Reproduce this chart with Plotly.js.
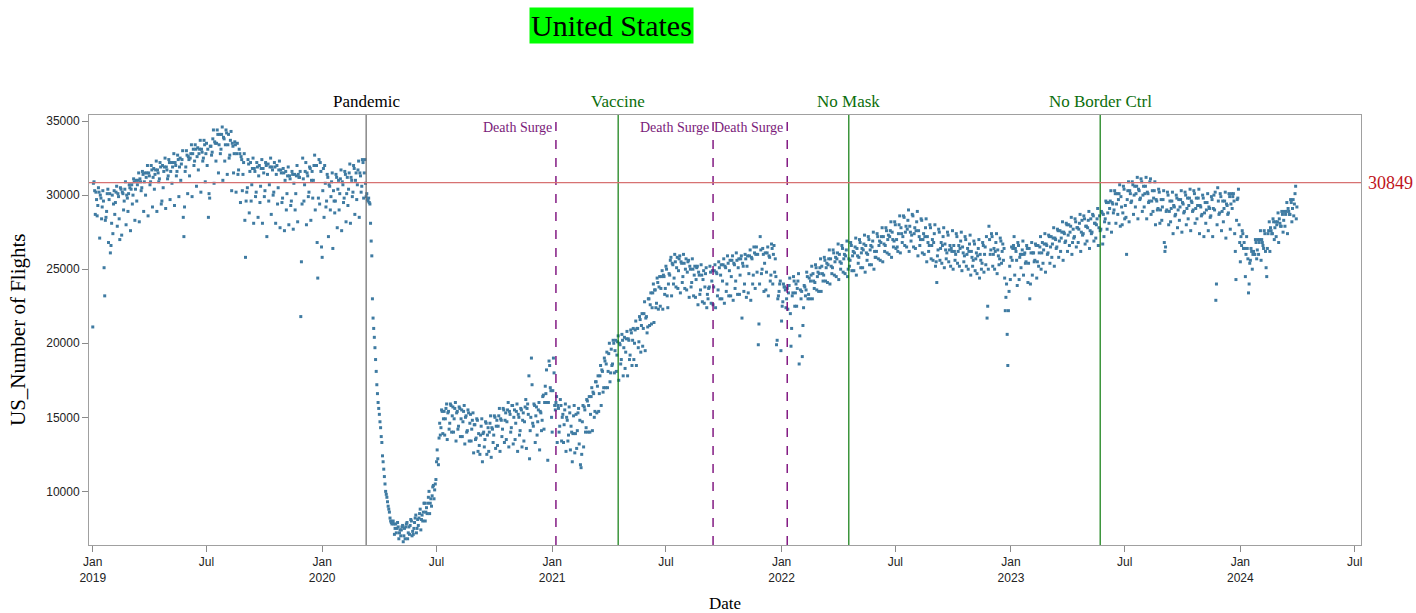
<!DOCTYPE html>
<html><head><meta charset="utf-8">
<script src="https://cdn.plot.ly/plotly-3.0.1.min.js"></script>
<style>html,body{margin:0;padding:0;background:#fff}#chart{width:1416px;height:613px}</style>
</head><body><div id="chart"></div>
<script>
// Daily US number of flights, in hundreds of flights.
// Each array starts on 1 January of its year; one line per week.
const flights2019 = [
211,308,309,303,287,302,297,
286,293,305,302,271,300,298,
284,292,303,296,251,232,283,
285,289,301,304,268,297,301,
261,266,281,300,274,294,303,
287,295,302,306,279,301,299,
284,270,305,304,273,302,301,
290,296,304,309,280,300,298,
289,301,307,305,276,304,307,
294,300,311,309,283,304,310,
296,307,310,315,282,311,309,
303,305,316,314,289,309,315,
300,312,315,320,286,315,313,
307,309,320,317,292,312,318,
304,314,317,323,289,317,315,
309,311,322,319,294,296,320,
305,316,319,325,291,319,317,
311,313,324,322,297,316,322,
308,319,322,328,293,322,320,
313,316,327,324,299,319,325,
310,321,324,330,285,272,292,
316,319,330,327,301,326,324,
313,325,328,334,299,328,331,
320,323,334,331,306,326,332,
317,328,331,337,302,331,329,
323,325,337,334,309,328,335,
320,331,285,301,298,333,333,
327,329,338,344,308,336,335,
323,335,344,341,315,334,341,
328,331,341,346,310,339,338,
323,334,344,342,314,334,341,
325,327,337,343,303,335,333,
315,328,336,334,302,328,335,
314,317,331,328,295,326,324,
303,314,322,328,283,258,296,
302,305,324,321,288,316,322,
296,307,318,325,281,318,316,
299,302,322,319,285,313,320,
295,306,318,324,281,318,315,
299,303,322,320,272,314,321,
296,307,319,325,287,319,317,
300,302,322,319,281,314,320,
294,305,317,323,278,317,315,
295,298,318,315,276,310,316,
290,301,313,319,280,313,311,
293,296,316,314,277,308,314,
290,301,313,320,282,314,312,
312,316,218,255,294,325,311,
296,307,316,322,280,315,313,
299,302,319,318,283,310,316,
298,310,320,327,290,320,320,
268,244,298,324,294,322,316,
265
];
const flights2020 = [
258,303,318,285,320,308,292,
296,314,312,272,307,306,290,
299,309,315,264,303,296,288,
296,314,312,278,304,310,290,
301,311,317,276,309,307,295,
298,316,314,282,301,312,293,
304,315,321,281,312,310,299,
302,320,318,287,310,315,297,
307,317,323,285,315,313,302,
306,324,322,298,315,324,308,
299,301,297,296,298,295,294,
281,269,259,230,217,210,204,
197,189,181,172,166,160,156,
152,147,143,137,133,124,120,
115,110,105,100,98,96,93,
90,88,86,82,80,79,78,
79,80,78,71,75,78,72,
75,79,76,68,72,74,70,
74,76,77,66,70,75,68,
76,78,79,68,72,76,71,
77,81,80,70,73,71,75,
79,82,84,72,75,81,77,
82,85,88,74,81,84,80,
86,92,92,80,86,89,85,
92,96,100,85,92,95,90,
97,103,104,95,101,105,108,
120,128,122,118,136,146,138,
143,155,154,139,149,154,138,
149,156,159,135,153,154,142,
146,159,158,140,151,157,140,
149,156,160,134,153,154,142,
144,157,156,137,149,155,137,
147,154,158,132,150,151,140,
141,155,153,134,146,152,134,
142,148,153,126,145,145,135,
136,149,148,127,139,131,125,
138,144,149,120,139,140,130,
135,147,146,125,138,143,127,
140,146,151,123,143,142,133,
138,151,150,129,144,148,131,
144,151,156,127,149,148,137,
142,156,155,133,148,153,135,
147,155,160,130,154,152,140,
143,158,158,132,150,155,135,
146,154,159,127,152,150,138,
141,156,155,130,148,153,134,
147,157,162,129,156,159,152,
178,122,141,150,190,172,146,
144,159,158,133,151,157,138,
147,155,160,128,154,153,141,
148,164,165,142,160,171,166,
182,160,121,160,188,185,170,
168,150
];
const flights2021 = [
140,168,190,180,158,155,160,
164,133,158,156,140,144,162,
158,134,150,152,133,145,155,
159,127,150,148,134,138,157,
153,128,144,140,120,139,151,
158,126,139,152,129,141,153,
156,132,148,118,116,125,147,
158,130,157,155,140,143,162,
161,140,158,164,140,152,164,
170,141,167,166,150,154,174,
174,153,171,178,154,166,178,
185,158,182,181,167,170,190,
188,170,186,194,170,181,193,
200,174,180,196,185,186,202,
200,180,195,202,181,192,201,
205,175,200,199,186,189,206,
202,178,197,204,183,194,203,
208,178,203,202,189,192,209,
207,185,202,210,189,200,209,
215,185,210,210,197,201,218,
216,194,212,220,198,210,220,
228,195,217,218,207,211,230,
230,212,226,234,213,224,234,
240,214,236,236,224,227,244,
241,223,238,245,225,237,245,
249,223,246,245,233,237,252,
250,232,224,240,247,246,256,
258,232,254,253,240,244,260,
255,238,251,258,237,249,257,
259,234,255,254,241,245,260,
254,237,250,257,236,248,255,
256,231,252,250,238,241,257,
250,232,246,252,231,243,251,
252,226,248,246,233,236,253,
246,228,243,249,227,238,247,
251,224,233,230,237,238,252,
248,227,242,249,226,238,249,
253,224,248,247,232,236,255,
251,230,246,253,230,242,253,
257,227,252,251,235,240,259,
254,232,249,256,232,245,256,
259,229,254,253,237,242,261,
256,233,251,257,233,246,257,
259,217,254,252,235,240,260,
257,231,252,259,234,247,259,
263,229,258,257,240,246,265,
261,237,260,265,248,260,199,
213,240,272,263,247,250,264,
260,235,254,261,236,248,261,
265,232,259,258,242,246,267,
264,240,260,266,248,257,245,
199,202,230,232,235,240,242,
195
];
const flights2022 = [
215,225,228,240,238,238,236,
224,230,237,223,234,239,244,
220,198,210,232,234,245,242,
225,234,240,225,237,242,247,
186,205,236,230,235,191,212,
224,239,238,232,236,248,245,
230,233,244,230,242,246,252,
230,247,242,237,241,253,251,
236,245,248,235,247,251,257,
235,252,247,242,246,258,256,
242,251,254,241,253,257,263,
240,257,252,247,251,263,261,
246,255,258,245,257,261,267,
243,260,255,250,254,266,264,
248,257,260,247,259,263,269,
245,250,257,252,256,268,266,
249,259,262,249,261,265,271,
246,264,259,254,258,270,268,
251,261,264,251,263,267,273,
248,266,261,256,260,272,270,
253,263,266,253,265,269,275,
250,262,258,258,262,274,272,
257,266,269,256,268,272,278,
255,272,267,262,266,278,276,
261,270,273,260,272,276,282,
258,275,270,265,269,282,280,
264,270,265,262,274,280,286,
261,278,274,268,272,286,285,
266,275,279,265,277,283,290,
262,279,275,269,273,287,286,
265,274,278,264,276,282,289,
259,276,272,266,270,284,283,
261,270,274,260,272,278,284,
255,272,268,262,266,280,278,
257,266,270,256,268,274,280,
252,255,241,259,263,277,275,
256,264,268,254,266,272,278,
251,267,263,257,261,275,273,
255,263,266,252,264,262,276,
250,266,262,256,260,274,272,
254,262,266,252,264,269,275,
249,265,261,255,259,272,270,
252,260,264,250,262,267,273,
246,262,258,252,256,269,267,
249,257,261,247,259,264,270,
244,260,256,250,254,268,266,
248,260,265,253,272,217,225,
250,279,270,260,263,274,272,
252,260,264,250,262,268,274,
247,263,259,253,257,271,269,
254,262,267,256,264,244,222,
231,240,206,185,222,235,252,
243
];
const flights2023 = [
258,265,256,264,266,272,246,
264,262,256,239,268,266,243,
258,260,251,260,263,269,246,
260,261,254,255,266,264,241,
254,264,230,240,261,268,246,
261,261,255,256,267,266,244,
255,266,252,261,265,272,250,
261,268,254,263,267,274,248,
267,266,260,261,273,272,254,
265,272,258,267,271,278,252,
271,270,264,265,277,276,258,
269,276,262,271,275,282,256,
275,274,268,269,281,280,262,
273,280,266,275,279,285,260,
268,277,271,272,284,282,265,
278,278,268,277,281,287,262,
275,283,273,274,286,284,267,
279,279,269,278,283,289,264,
276,284,274,275,287,286,269,
281,281,271,280,284,291,266,
278,286,276,277,289,288,267,
287,272,282,284,296,295,277,
288,295,281,291,296,303,275,
295,294,288,290,303,301,281,
294,301,287,297,301,307,279,
299,292,280,288,306,304,284,
293,285,260,297,303,309,282,
303,301,295,296,309,307,287,
300,306,292,301,306,312,284,
304,303,297,298,311,309,289,
300,306,292,301,306,312,284,
302,301,295,296,309,311,287,
296,303,289,298,303,309,280,
297,296,290,291,304,302,281,
290,297,283,292,297,303,268,
262,265,289,290,302,300,280,
289,296,282,291,296,302,274,
293,292,286,287,300,298,278,
290,297,283,292,297,303,275,
295,294,288,289,302,300,280,
291,298,284,293,298,304,276,
296,295,289,290,303,301,281,
291,298,284,293,298,304,274,
293,292,286,287,300,298,272,
288,295,281,290,295,301,276,
292,291,285,286,299,297,272,
291,300,290,302,229,240,280,
305,296,287,288,301,299,276,
289,296,282,291,296,302,271,
294,293,287,288,301,299,277,
294,301,291,299,301,296,274,
262,243,283,297,298,304,280,
268
];
const flights2024 = [
255,272,266,276,274,264,268,
264,245,260,272,264,257,234,
240,254,256,264,262,250,260,
262,260,260,270,268,257,263,
270,260,268,270,276,256,270,
268,266,264,276,274,262,251,
245,264,274,276,282,262,278,
276,274,274,284,282,270,278,
282,272,280,282,288,268,284,
281,279,279,289,287,275,283,
289,279,287,289,295,274,291,
289,287,287,297,295,282,291,
297,286,294,301,306,284,292
];
const FLIGHTS_PER_UNIT = 100;

const referenceLevel = 30849;
const milestoneDates = ['2020-03-11', '2021-04-16', '2022-04-18', '2023-05-23'];
const milestoneLabels = ['Pandemic', 'Vaccine', 'No Mask', 'No Border Ctrl'];
const surgeDates = ['2021-01-07', '2021-09-14', '2022-01-10'];
const surgeLabel = 'Death Surge';

const xTickDates = ['2019-01-01','2019-07-01','2020-01-01','2020-07-01','2021-01-01','2021-07-01',
  '2022-01-01','2022-07-01','2023-01-01','2023-07-01','2024-01-01','2024-07-01'];
const xTickLabels = ['Jan<br>2019','Jul','Jan<br>2020','Jul','Jan<br>2021','Jul',
  'Jan<br>2022','Jul','Jan<br>2023','Jul','Jan<br>2024','Jul'];
const yTickValues = [10000, 15000, 20000, 25000, 30000, 35000];

const series = [[2019, flights2019], [2020, flights2020], [2021, flights2021],
                [2022, flights2022], [2023, flights2023], [2024, flights2024]];
const xs = [], ys = [];
series.forEach(([yr, arr]) => arr.forEach((v, i) => {
  const d = new Date(Date.UTC(yr, 0, 1 + i));
  xs.push(d.toISOString().slice(0, 10));
  ys.push(v * FLIGHTS_PER_UNIT);
}));

const SERIF = 'Liberation Serif, Times New Roman, serif';
const SANS = 'Liberation Sans, Arial, sans-serif';
const L = 89, R = 1361, T = 115, B = 545;
const pw = R - L, ph = B - T;
const px = (p) => (p - L) / pw;
const py = (p) => (B - p) / ph;

const shapes = [];
const annotations = [];

milestoneDates.forEach((d, i) => {
  const isPandemic = i === 0;
  shapes.push({type: 'line', xref: 'x', yref: 'paper', x0: d, x1: d, y0: 0, y1: 1,
    line: {color: isPandemic ? '#6b6b6b' : '#0b7a0b', width: 1.2}});
  annotations.push({xref: 'x', yref: 'paper', x: d, y: py(101), xanchor: 'center', yanchor: 'middle',
    text: milestoneLabels[i], showarrow: false,
    font: {family: SERIF, size: 17, color: isPandemic ? '#000000' : '#0b6e0b'}});
});
surgeDates.forEach((d) => {
  shapes.push({type: 'line', xref: 'x', yref: 'paper', x0: d, x1: d, y0: 0, y1: 1,
    line: {color: '#7a0a7a', width: 1.4, dash: 'dash'}});
  annotations.push({xref: 'x', yref: 'paper', x: d, y: py(128), xanchor: 'right', yanchor: 'middle',
    xshift: -2, text: surgeLabel, showarrow: false,
    font: {family: SERIF, size: 14, color: '#7a1a7a'}});
});
shapes.push({type: 'line', xref: 'paper', yref: 'y', x0: 0, x1: 1, y0: referenceLevel, y1: referenceLevel,
  line: {color: '#d77272', width: 1.2}});
annotations.push({xref: 'paper', yref: 'y', x: px(1390), y: referenceLevel, xanchor: 'center', yanchor: 'middle',
  text: String(referenceLevel), showarrow: false, font: {family: SERIF, size: 18, color: '#c0141c'}});

annotations.push({xref: 'paper', yref: 'paper', x: px(611.5), y: py(25), xanchor: 'center', yanchor: 'middle',
  text: 'United States', showarrow: false, bgcolor: '#00ff00', borderpad: 1,
  font: {family: SERIF, size: 30, color: '#000000'}});
annotations.push({xref: 'paper', yref: 'paper', x: px(18), y: py(330), xanchor: 'center', yanchor: 'middle',
  textangle: -90, text: 'US_Number of Flights', showarrow: false,
  font: {family: SERIF, size: 21, color: '#000000'}});
annotations.push({xref: 'paper', yref: 'paper', x: px(725), y: py(603), xanchor: 'center', yanchor: 'middle',
  text: 'Date', showarrow: false, font: {family: SERIF, size: 17, color: '#000000'}});

const trace = {type: 'scatter', mode: 'markers', x: xs, y: ys,
  marker: {symbol: 'square', size: 3, color: '#3f7ba2', line: {width: 0}},
  hoverinfo: 'x+y'};

const axisCommon = {showgrid: false, zeroline: false, showline: true, linecolor: '#a0a0a0', linewidth: 1,
  mirror: true, ticks: 'outside', ticklen: 6, tickcolor: '#8a8a8a', tickwidth: 1,
  tickfont: {family: SANS, size: 12, color: '#222222'}};

const layout = {
  width: 1416, height: 613,
  margin: {l: L, r: 1416 - R, t: T, b: 613 - B, pad: 0},
  paper_bgcolor: '#ffffff', plot_bgcolor: '#ffffff',
  showlegend: false,
  xaxis: Object.assign({}, axisCommon, {type: 'date', range: ['2018-12-26', '2024-07-11'],
    tickmode: 'array', tickvals: xTickDates, ticktext: xTickLabels}),
  yaxis: Object.assign({}, axisCommon, {range: [6380, 35410], tickmode: 'array',
    tickvals: yTickValues, ticktext: yTickValues.map(String)}),
  shapes: shapes,
  annotations: annotations
};

Plotly.newPlot('chart', [trace], layout, {displayModeBar: false, staticPlot: true});
</script>
</body></html>
